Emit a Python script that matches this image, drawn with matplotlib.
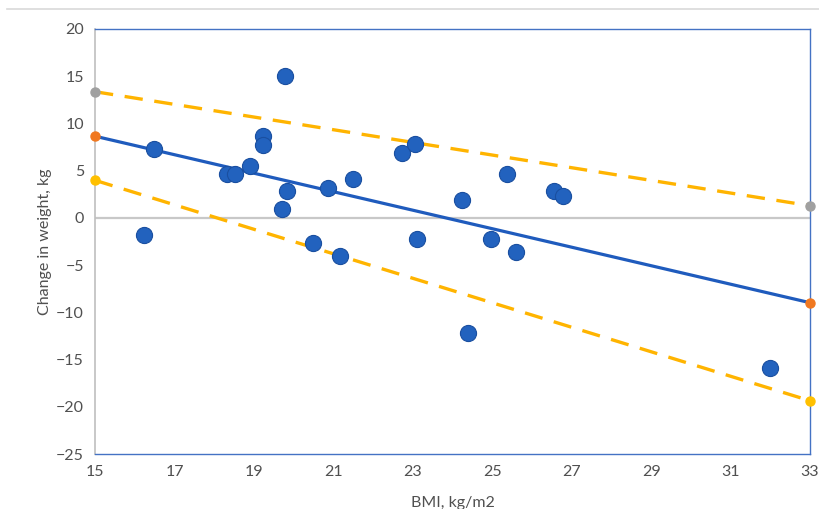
import matplotlib
matplotlib.use("Agg")
import matplotlib.pyplot as plt
from matplotlib.lines import Line2D

# BMI (kg/m2) vs change in weight (kg)
bmi = [16.23, 16.49, 18.32, 18.52, 18.90, 19.24, 19.24, 19.78, 19.84, 19.72,
       20.87, 21.49, 20.48, 21.17, 22.72, 23.06, 23.10, 24.23, 25.36, 26.56,
       26.79, 24.96, 25.61, 24.40, 31.99]
weight_change = [-1.8, 7.3, 4.6, 4.6, 5.5, 8.7, 7.7, 15.0, 2.8, 0.9,
                 3.2, 4.1, -2.7, -4.0, 6.9, 7.8, -2.2, 1.9, 4.6, 2.8,
                 2.3, -2.2, -3.6, -12.2, -15.9]

# fitted line and its band, given at the two ends of the axis
fit_x = [15, 33]
fit_y = [8.65, -8.98]
upper_y = [13.36, 1.29]
lower_y = [3.98, -19.36]

blue = "#2262BE"
gold = "#FFB400"
text_col = "#505050"

plt.rcParams["font.family"] = ["Lato", "DejaVu Sans"]

fig = plt.figure(figsize=(8.2, 5.09), dpi=100)
ax = fig.add_axes([95 / 820, 55 / 509, 715 / 820, 425 / 509])

ax.axhline(0, color="#C8C8C8", lw=1.6, zorder=1)

ax.plot(fit_x, upper_y, color=gold, lw=2.4, dashes=(5.5, 3.5), zorder=2)
ax.plot(fit_x, lower_y, color=gold, lw=2.4, dashes=(5.5, 3.5), zorder=2)
ax.plot(fit_x, fit_y, color="#1F5BBD", lw=2.3, zorder=3)

ax.scatter(bmi, weight_change, s=135, color=blue, edgecolor="#1A4FA0",
           linewidth=0.8, zorder=4)

# end points of the three lines
ax.plot(fit_x, upper_y, "o", color="#A0A0A0", ms=6.5, ls="none", zorder=5, clip_on=False)
ax.plot(fit_x, fit_y, "o", color="#F07820", ms=6.5, ls="none", zorder=5, clip_on=False)
ax.plot(fit_x, lower_y, "o", color="#FFC000", ms=6.5, ls="none", zorder=5, clip_on=False)

ax.set_xlim(15, 33)
ax.set_ylim(-25, 20)
ax.set_xticks(range(15, 34, 2))
ax.set_yticks(range(-25, 21, 5))
ax.tick_params(length=0, labelsize=11.5, labelcolor=text_col, pad=8)

ax.spines["left"].set_color("#BFBFBF")
ax.spines["left"].set_linewidth(1.2)
for side in ("top", "right", "bottom"):
    ax.spines[side].set_color("#4472C4")
    ax.spines[side].set_linewidth(1.0)

ax.set_xlabel("BMI, kg/m2", fontsize=11.5, color=text_col, labelpad=12)
ax.set_ylabel("Change in weight, kg", fontsize=11.5, color=text_col, labelpad=3)

# thin rule above the plot
fig.add_artist(Line2D([7 / 820, 1.0], [1 - 9 / 509, 1 - 9 / 509],
                      color="#D9D9D9", lw=1.2))

fig.savefig("out.png", dpi=100, facecolor="white")
